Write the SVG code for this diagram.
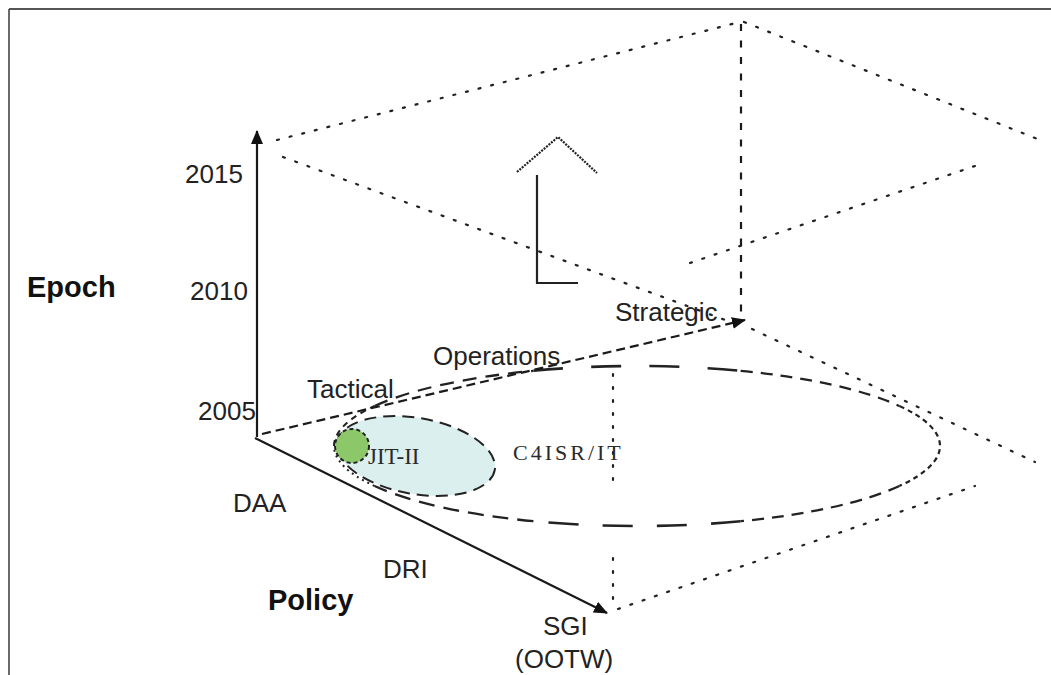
<svg xmlns="http://www.w3.org/2000/svg" width="1051" height="675" viewBox="0 0 1051 675">
<style>
.lbl{font-family:"Liberation Sans",Arial,sans-serif;font-size:26px;fill:#222}
.big{font-family:"Liberation Sans",Arial,sans-serif;font-size:29px;font-weight:bold;fill:#111}
.ser{font-family:"Liberation Serif","Times New Roman",serif;fill:#2a2a2a}
.dot{fill:none;stroke:#222;stroke-width:2.2;stroke-dasharray:2 11;stroke-linecap:round}
.ax{fill:none;stroke:#1a1a1a;stroke-width:2.2}
.el{fill:none;stroke:#222}
</style>
<defs>
<marker id="ah" viewBox="0 0 14 12" refX="13" refY="6" markerWidth="14" markerHeight="12" orient="auto" markerUnits="userSpaceOnUse"><path d="M0,0 L14,6 L0,12 z" fill="#111"/></marker>
</defs>
<rect width="1051" height="675" fill="#fff"/>
<g id="frame">
<line x1="9" y1="9" x2="1051" y2="9" stroke="#555" stroke-width="2"/>
<line x1="9" y1="9" x2="9" y2="675" stroke="#444" stroke-width="1.6"/>
</g>
<g id="box-edges">
<line class="dot" x1="277" y1="140" x2="740" y2="22"/>
<line class="dot" x1="744" y1="22" x2="1040" y2="140"/>
<line class="dot" x1="283" y1="157" x2="736" y2="324"/>
<line class="dot" x1="752" y1="329" x2="1035" y2="462"/>
<line class="dot" x1="690" y1="263" x2="975" y2="166"/>
<line class="dot" x1="613" y1="374" x2="613" y2="482"/>
<line class="dot" x1="613" y1="558" x2="613" y2="610"/>
<line class="dot" x1="618" y1="609" x2="975" y2="486"/>
</g>
<g id="big-ellipse" class="el">
<path d="M374.6 486 A303 80 0 0 1 334 446" stroke-width="2" stroke-dasharray="2 4"/>
<path d="M533.4 521.2 A303 80 0 0 1 374.6 486" stroke-width="2.3" stroke-dasharray="16 9"/>
<path d="M740.6 521.2 A303 80 0 0 1 533.4 521.2" stroke-width="2.6" stroke-dasharray="30 24"/>
<path d="M899.4 486 A303 80 0 0 1 740.6 521.2" stroke-width="2.3" stroke-dasharray="12 8"/>
<path d="M899.4 406 A303 80 0 0 1 899.4 486" stroke-width="2.2" stroke-dasharray="5 4"/>
<path d="M740.6 370.8 A303 80 0 0 1 899.4 406" stroke-width="2.3" stroke-dasharray="12 8"/>
<path d="M533.4 370.8 A303 80 0 0 1 740.6 370.8" stroke-width="2.6" stroke-dasharray="30 28"/>
<path d="M374.6 406 A303 80 0 0 1 533.4 370.8" stroke-width="2.3" stroke-dasharray="14 9"/>
<path d="M334 446 A303 80 0 0 1 374.6 406" stroke-width="2" stroke-dasharray="6 5"/>
</g>
<g id="jit-ellipse">
<ellipse cx="416" cy="456" rx="80" ry="38" transform="rotate(10 416 456)" fill="#dcefef" stroke="#222" stroke-width="2" stroke-dasharray="12 7"/>
</g>
<g id="green-circle">
<circle cx="352" cy="446" r="17" fill="#8cc86a" stroke="#222" stroke-width="2" stroke-dasharray="4 3"/>
</g>
<g id="connectors">
<line class="ax" x1="257" y1="437" x2="257" y2="131" marker-end="url(#ah)"/>
<line class="ax" x1="255" y1="438" x2="607" y2="613" marker-end="url(#ah)"/>
<line class="ax" x1="262" y1="434" x2="745" y2="320" stroke-dasharray="9 5" marker-end="url(#ah)"/>
<line class="ax" x1="741" y1="24" x2="741" y2="318" stroke-dasharray="7 9.5"/>
</g>
<g id="up-arrow">
<polyline points="537,175 537,283 578,283" fill="none" stroke="#222" stroke-width="2.2"/>
<polyline points="517,172 558,137 597,173" fill="none" stroke="#222" stroke-width="2.2" stroke-dasharray="2 1.2"/>
</g>
<g id="labels">
<text class="lbl" x="185" y="183">2015</text>
<text class="lbl" x="190" y="300">2010</text>
<text class="lbl" x="198" y="420">2005</text>
<text class="big" x="27" y="297">Epoch</text>
<text class="lbl" x="307" y="398">Tactical</text>
<text class="lbl" x="433" y="365">Operations</text>
<text class="lbl" x="615" y="321">Strategic</text>
<text class="lbl" x="233" y="512">DAA</text>
<text class="lbl" x="383" y="578">DRI</text>
<text class="big" x="268" y="610">Policy</text>
<text class="lbl" x="543" y="635">SGI</text>
<text class="lbl" x="515" y="668">(OOTW)</text>
<text class="ser" x="368" y="464" font-size="23">JIT-II</text>
<text class="ser" x="513" y="460" font-size="22" letter-spacing="3">C4ISR/IT</text>
</g>
</svg>
